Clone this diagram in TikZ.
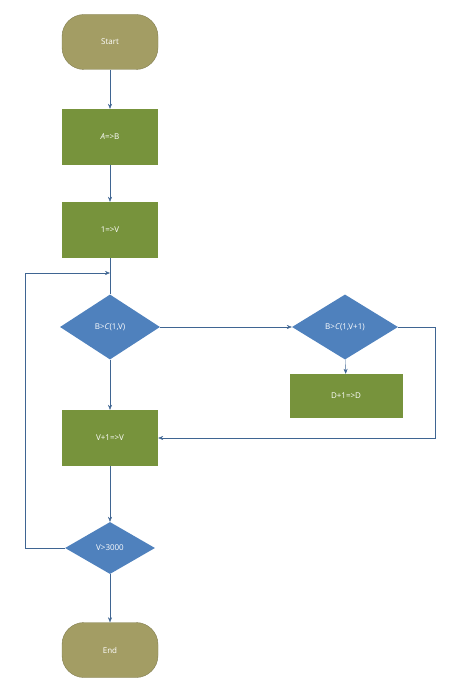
\documentclass[tikz,border=0pt]{standalone}
\usepackage{fontspec}
\setmainfont{Open Sans}
\usetikzlibrary{shapes.geometric,arrows.meta}
\definecolor{grn}{HTML}{77933C}
\definecolor{blu}{HTML}{4F81BD}
\definecolor{olv}{HTML}{A39D64}
\definecolor{ln}{HTML}{3F6592}
\begin{document}
\begin{tikzpicture}[x=1pt,y=-1pt,
 every node/.style={text=white,font=\fontsize{8}{10}\selectfont,inner sep=0pt},
 term/.style={fill=olv,draw=olv!80!black,rounded corners=22pt,minimum width=96pt,minimum height=55pt},
 proc/.style={fill=grn,minimum width=96pt,minimum height=56pt},
 dec/.style={diamond,fill=blu,aspect=1.6},
 arr/.style={draw=ln,-{Stealth[length=5pt,width=4pt]}},
 ln/.style={draw=ln}]
\useasboundingbox (0,0) rectangle (449,690);
\node[term] (s) at (110,42) {Start};
\node[proc] (ab) at (110,137) {\textit{A}=>B};
\node[proc] (v1) at (110,230) {1=>V};
\node[dec,minimum width=100pt,minimum height=65pt] (d1) at (110,327) {B>\textit{C}(1,V)};
\node[dec,minimum width=106pt,minimum height=65pt] (d2) at (345,327) {B>\textit{C}(1,V+1)};
\node[proc,minimum width=113pt,minimum height=44pt] (dd) at (346,396) {D+1=>D};
\node[proc] (vv) at (110,438) {V+1=>V};
\node[dec,minimum width=90pt,minimum height=52pt] (d3) at (110,548) {V>3000};
\node[term] (e) at (110,650) {End};
\coordinate (j) at (110,273);
\draw[arr] (s) -- (ab);
\draw[arr] (ab) -- (v1);
\draw[ln] (v1) -- (d1);
\draw[arr] (d1) -- (d2);
\draw[arr] (d2) -- (dd);
\draw[arr] (d1) -- (vv);
\draw[arr] (d2.east) -- (435,327) -- (435,438) -- (vv.east);
\draw[arr] (vv) -- (d3);
\draw[arr] (d3) -- (e);
\draw[arr] (d3.west) -- (25,548) -- (25,273) -- (j);
\end{tikzpicture}
\end{document}
